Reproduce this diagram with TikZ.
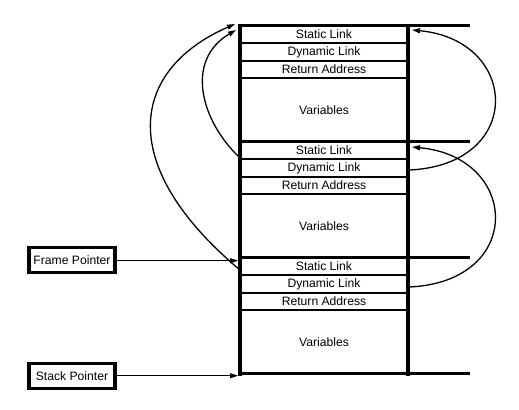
\documentclass[tikz,border=0pt]{standalone}
\usepackage{fontspec}
\setmainfont{Liberation Sans}
\usetikzlibrary{arrows.meta}
\begin{document}
\begin{tikzpicture}[x=1bp,y=-1bp,
  heavy/.style={line width=3.5bp},
  rowline/.style={line width=2bp},
  rowtext/.style={minimum width=168bp,minimum height=17bp,inner sep=0pt,
    font=\fontsize{12.2}{14}\selectfont},
  ptrbox/.style={draw,line width=3.2bp,minimum width=86bp,minimum height=25bp,
    inner sep=0pt,font=\fontsize{12.2}{14}\selectfont},
  link/.style={line width=1.3bp,-{Triangle[length=8bp,width=5bp]}},
  ptrarrow/.style={line width=0.8bp,-{Triangle[length=8bp,width=5bp]}}]
\useasboundingbox (0,0) rectangle (519,409);
% stack walls
\draw[heavy] (240,24) -- (240,375.5);
\draw[heavy] (408,24) -- (408,375.5);
\foreach \i/\t in {1/25.7,2/141.7,3/257.7}{
  \draw[heavy] (238.25,\t) -- (470,\t);
  \draw[rowline] (240,\t+17.5) -- (408,\t+17.5);
  \draw[rowline] (240,\t+35) -- (408,\t+35);
  \draw[rowline] (240,\t+52) -- (408,\t+52);
  \node[rowtext] (s\i) at (324,\t+8.8) {Static Link};
  \node[rowtext] (d\i) at (324,\t+26.3) {Dynamic Link};
  \node[rowtext] (r\i) at (324,\t+43.5) {Return Address};
  \node[rowtext] (v\i) at (324,\t+84) {Variables};
}
\draw[heavy] (238.25,373.7) -- (470,373.7);
% pointer boxes
\node[ptrbox] (fp) at (72,260.2) {Frame Pointer};
\node[ptrbox] (sp) at (72,375.8) {Stack Pointer};
\coordinate (fptgt) at (238,260.7);
\coordinate (sptgt) at (238,375.7);
\draw[ptrarrow] (fp.east |- fptgt) -- (fptgt);
\draw[ptrarrow] (sp.east |- sptgt) -- (sptgt);
% link endpoints
\coordinate (top1a) at (235,24);
\coordinate (top1b) at (236,30);
\coordinate (src3s) at (240,270);
\coordinate (src2s) at (240,158);
\coordinate (tgt1r) at (412,30);
\coordinate (tgt2r) at (412,147);
\coordinate (src2d) at (409,170);
\coordinate (src3d) at (409,287);
% static links (left)
\draw[link] (src3s) .. controls (115,165) and (130,70) .. (top1a);
\draw[link] (src2s) .. controls (200,120) and (185,60) .. (top1b);
% dynamic links (right)
\draw[link] (src2d) .. controls (525,165) and (520,40) .. (tgt1r);
\draw[link] (src3d) .. controls (525,282) and (520,157) .. (tgt2r);
\end{tikzpicture}
\end{document}
